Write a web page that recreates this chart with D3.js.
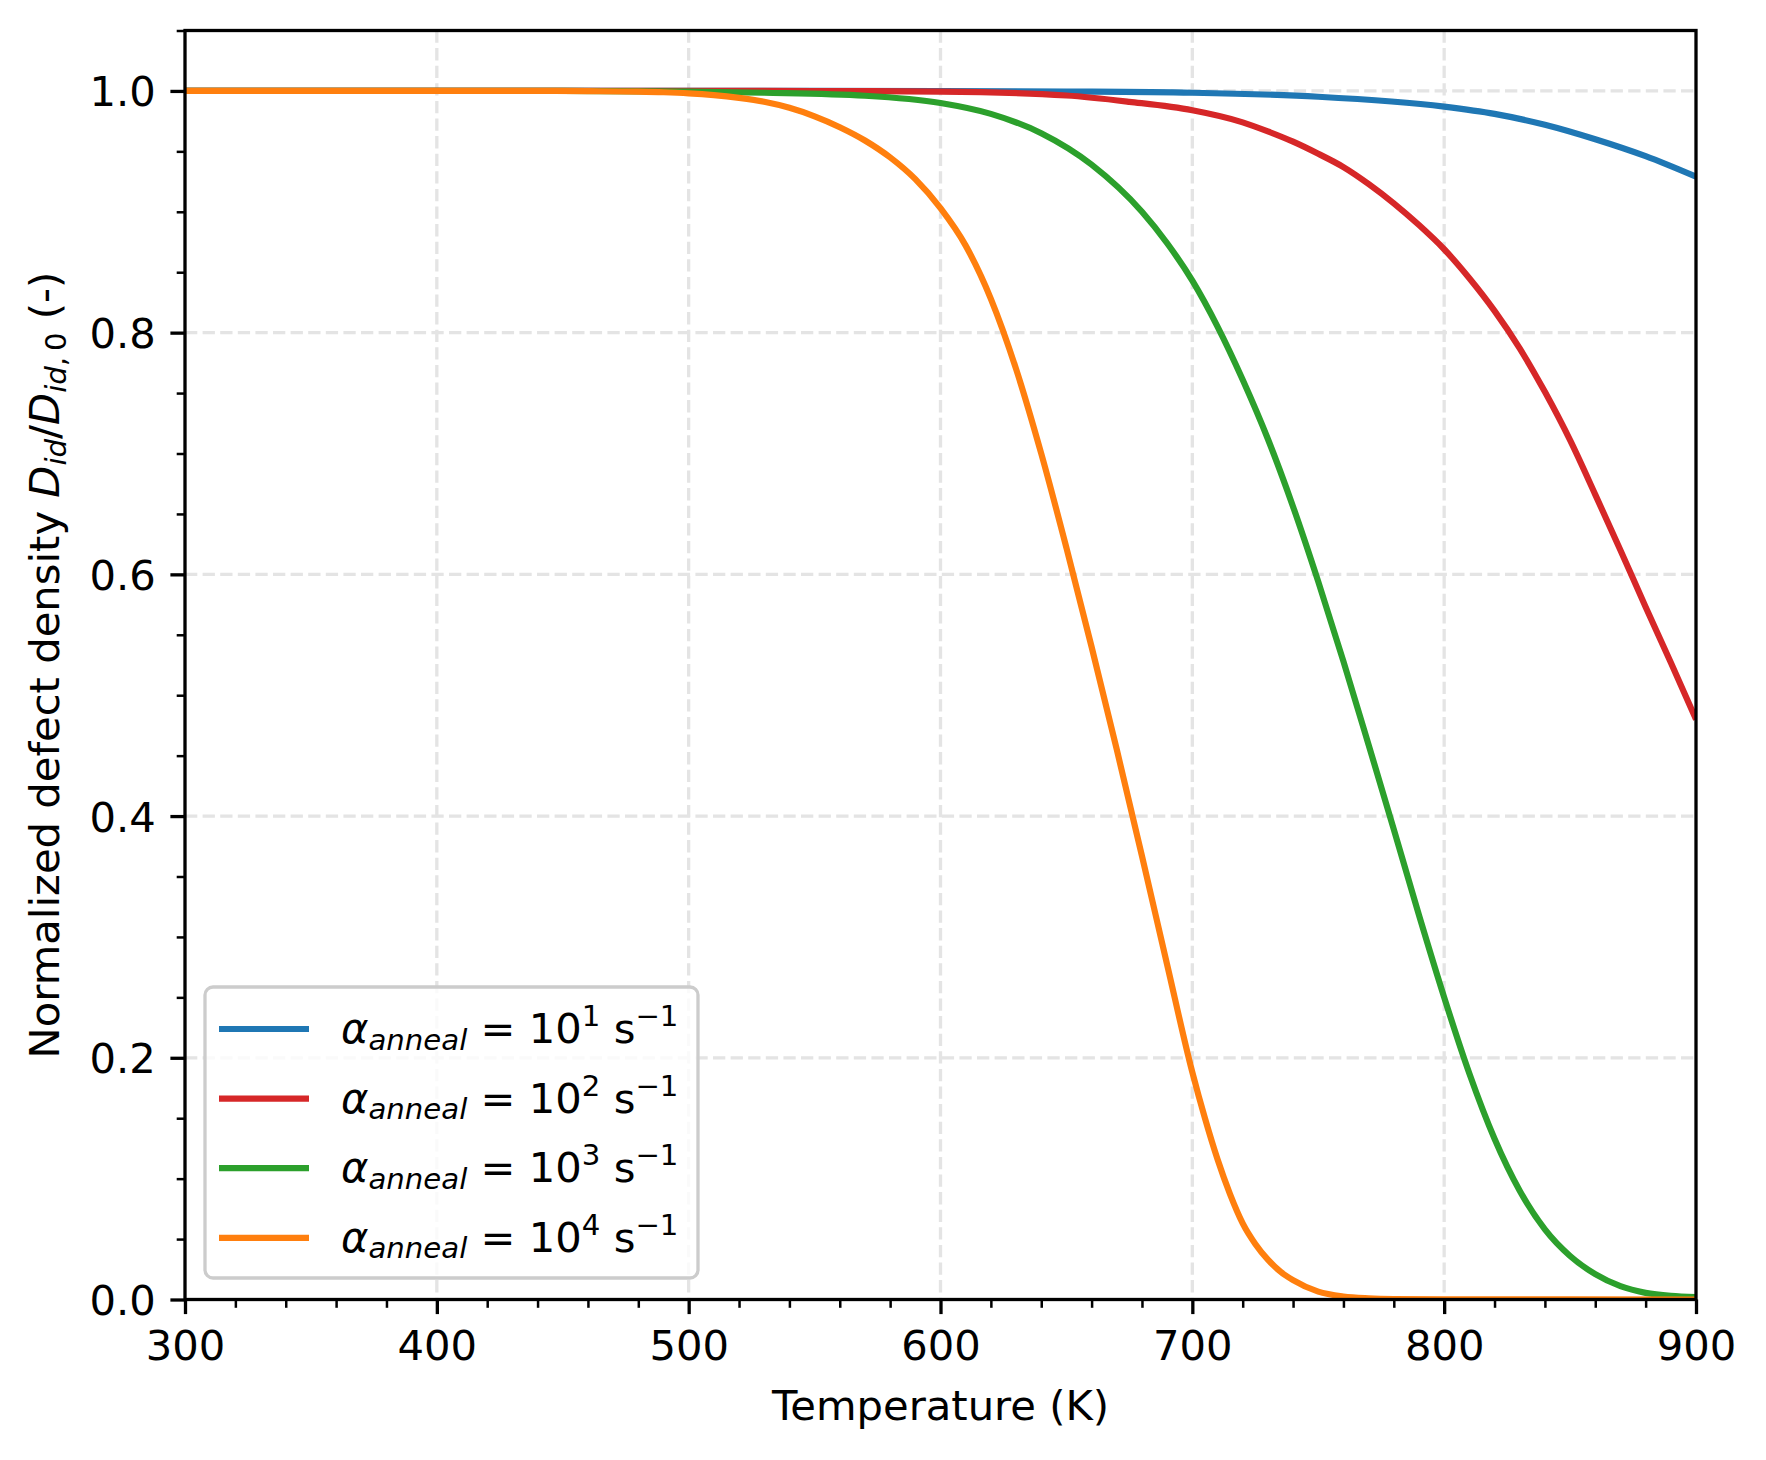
<!DOCTYPE html>
<html>
<head>
<meta charset="utf-8">
<script src="https://cdn.jsdelivr.net/npm/d3@7"></script>
<style>
  html, body { margin: 0; padding: 0; background: #ffffff; }
  svg { display: block; }
  text { font-family: "DejaVu Sans", sans-serif; fill: #000; }
</style>
</head>
<body>
<svg id="chart" width="1766" height="1460"></svg>
<script>
// ---------------- data ----------------
const xTicks = [300, 400, 500, 600, 700, 800, 900];
const yTicks = [0.0, 0.2, 0.4, 0.6, 0.8, 1.0];

const exponents = ["1", "2", "3", "4"];
const seriesColors = ["#1f77b4", "#d62728", "#2ca02c", "#ff7f0e"];

// alpha = 10^1 s^-1
const tempA1 = [300, 500, 600, 650, 700, 750, 800, 820, 840, 860, 880, 900];
const densA1 = [1, 1, 0.99995, 0.9995, 0.9985, 0.9952, 0.987, 0.981, 0.972, 0.960, 0.946, 0.929];

// alpha = 10^2 s^-1
const tempA2 = [300, 500, 550, 600, 650, 675, 700, 720, 730, 740, 750, 760, 770, 780, 790, 800, 810, 820, 830, 840, 850, 860, 870, 880, 890, 900];
const densA2 = [1, 1, 0.99995, 0.9995, 0.9962, 0.991, 0.984, 0.974, 0.9665, 0.958, 0.948, 0.937, 0.923, 0.907, 0.889, 0.869, 0.845, 0.818, 0.787, 0.751, 0.711, 0.666, 0.620, 0.573, 0.527, 0.480];

// alpha = 10^3 s^-1
const tempA3 = [300, 450, 500, 530, 570, 600, 620, 640, 660, 680, 690, 700, 710, 720, 730, 740, 750, 760, 770, 780, 790, 800, 810, 820, 830, 840, 850, 860, 870, 880, 890, 900];
const densA3 = [1, 1, 0.9995, 0.9985, 0.996, 0.990, 0.981, 0.965, 0.939, 0.900, 0.874, 0.843, 0.805, 0.761, 0.712, 0.656, 0.594, 0.528, 0.459, 0.389, 0.318, 0.250, 0.187, 0.133, 0.090, 0.058, 0.036, 0.021, 0.011, 0.0055, 0.003, 0.002];

// alpha = 10^4 s^-1
const tempA4 = [300, 440, 460, 480, 490, 500, 510, 520, 530, 540, 550, 560, 570, 580, 590, 600, 610, 620, 630, 640, 650, 660, 670, 680, 690, 700, 705, 710, 715, 720, 725, 730, 735, 740, 750, 760, 770, 780, 800, 900];
const densA4 = [1, 1, 0.9998, 0.9994, 0.9989, 0.998, 0.9965, 0.9942, 0.991, 0.986, 0.979, 0.970, 0.959, 0.945, 0.927, 0.903, 0.872, 0.828, 0.770, 0.700, 0.622, 0.540, 0.455, 0.367, 0.277, 0.188, 0.150, 0.116, 0.087, 0.063, 0.046, 0.033, 0.023, 0.016, 0.0065, 0.0025, 0.001, 0.0004, 0.0001, 0];

const seriesTemps = [tempA1, tempA2, tempA3, tempA4];
const seriesDens = [densA1, densA2, densA3, densA4];

// ---------------- layout ----------------
const FS = 41.7;      // 10 pt
const SUB = FS * 0.7; // script size
const pL = 185, pR = 1696, pT = 30.5, pB = 1299.5;

const svg = d3.select("#chart");
const x = d3.scaleLinear().domain([300, 900]).range([pL, pR]);
const y = d3.scaleLinear().domain([0, 1.05]).range([pB, pT]);

// grid
const grid = svg.append("g").attr("stroke", "#e4e4e4").attr("stroke-width", 3.3)
  .attr("stroke-dasharray", "12.3,5.3");
grid.selectAll("line.gx").data(xTicks.slice(1, -1)).join("line").attr("class", "gx")
  .attr("x1", d => x(d)).attr("x2", d => x(d)).attr("y1", pT).attr("y2", pB);
grid.selectAll("line.gy").data(yTicks.slice(1)).join("line").attr("class", "gy")
  .attr("x1", pL).attr("x2", pR).attr("y1", d => y(d)).attr("y2", d => y(d));

// clip
svg.append("clipPath").attr("id", "plotclip").append("rect")
  .attr("x", pL).attr("y", pT).attr("width", pR - pL).attr("height", pB - pT);

// lines
const line = d3.line().curve(d3.curveMonotoneX);
const linesG = svg.append("g").attr("clip-path", "url(#plotclip)");
seriesTemps.forEach((ts, i) => {
  const pts = ts.map((t, j) => [x(t), y(seriesDens[i][j])]);
  linesG.append("path").attr("d", line(pts)).attr("fill", "none")
    .attr("stroke", seriesColors[i]).attr("stroke-width", 6.2)
    .attr("stroke-linejoin", "round");
});

// axes via d3 axis generators
const xMinor = d3.range(300, 901, 20).filter(v => v % 100 !== 0);
const yMinor = d3.range(0, 22).map(i => i * 0.05).filter((v, i) => i % 4 !== 0);

const xAxis = svg.append("g").attr("transform", `translate(0,${pB})`)
  .call(d3.axisBottom(x).tickValues(xTicks).tickFormat(d3.format("d")).tickSize(14.6).tickPadding(14.6));
const xAxisMinor = svg.append("g").attr("transform", `translate(0,${pB})`)
  .call(d3.axisBottom(x).tickValues(xMinor).tickFormat("").tickSize(8.3));
const yAxis = svg.append("g").attr("transform", `translate(${pL},0)`)
  .call(d3.axisLeft(y).tickValues(yTicks).tickFormat(d3.format(".1f")).tickSize(14.6).tickPadding(14.6));
const yAxisMinor = svg.append("g").attr("transform", `translate(${pL},0)`)
  .call(d3.axisLeft(y).tickValues(yMinor).tickFormat("").tickSize(8.3));

[xAxis, xAxisMinor, yAxis, yAxisMinor].forEach(g => {
  g.select(".domain").remove();
  g.selectAll(".tick line").attr("stroke", "#000");
  g.selectAll(".tick text").attr("font-size", FS).attr("font-family", "DejaVu Sans").attr("fill", "#000");
});
[xAxis, yAxis].forEach(g => g.selectAll(".tick line").attr("stroke-width", 3.3));
[xAxisMinor, yAxisMinor].forEach(g => g.selectAll(".tick line").attr("stroke-width", 2.5));
xAxis.selectAll(".tick text").attr("dy", null).attr("y", 60.5);
yAxis.selectAll(".tick text").attr("dy", "0.36em");

// spines
svg.append("rect").attr("x", pL).attr("y", pT).attr("width", pR - pL).attr("height", pB - pT)
  .attr("fill", "none").attr("stroke", "#000").attr("stroke-width", 3.3);

// axis labels
svg.append("text").attr("x", (pL + pR) / 2).attr("y", 1420).attr("text-anchor", "middle")
  .attr("font-size", FS).text("Temperature (K)");

const yl = svg.append("text").attr("transform", `translate(59,${(pT + pB) / 2}) rotate(-90)`)
  .attr("text-anchor", "middle").attr("font-size", FS);
yl.append("tspan").text("Normalized defect density ");
yl.append("tspan").attr("font-style", "italic").text("D");
yl.append("tspan").attr("font-style", "italic").attr("font-size", SUB).attr("dy", 6.5).text("id");
yl.append("tspan").attr("dy", -6.5).text("/");
yl.append("tspan").attr("font-style", "italic").text("D");
yl.append("tspan").attr("font-style", "italic").attr("font-size", SUB).attr("dy", 6.5).text("id");
yl.append("tspan").attr("font-size", SUB).text(",\u20090");
yl.append("tspan").attr("dy", -6.5).text(" (-)");

// legend
const lg = svg.append("g");
lg.append("rect").attr("x", 205).attr("y", 987).attr("width", 493).attr("height", 291)
  .attr("rx", 8).attr("ry", 8).attr("fill", "#fff").attr("fill-opacity", 0.8)
  .attr("stroke", "#cccccc").attr("stroke-width", 3.3);
exponents.forEach((e, i) => {
  const ly = 1029 + i * 69.6;
  lg.append("line").attr("x1", 219).attr("x2", 309).attr("y1", ly).attr("y2", ly)
    .attr("stroke", seriesColors[i]).attr("stroke-width", 6.2);
  const t = lg.append("text").attr("x", 341).attr("y", ly + 14).attr("font-size", FS);
  t.append("tspan").attr("font-style", "italic").text("\u03b1");
  t.append("tspan").attr("font-style", "italic").attr("font-size", SUB).attr("dy", 6.5).text("anneal");
  t.append("tspan").attr("dy", -6.5).text(" = 10");
  t.append("tspan").attr("font-size", SUB).attr("dy", -17).text(e);
  t.append("tspan").attr("dy", 17).text(" s");
  t.append("tspan").attr("font-size", SUB).attr("dy", -17).text("\u22121");
});
</script>
</body>
</html>
